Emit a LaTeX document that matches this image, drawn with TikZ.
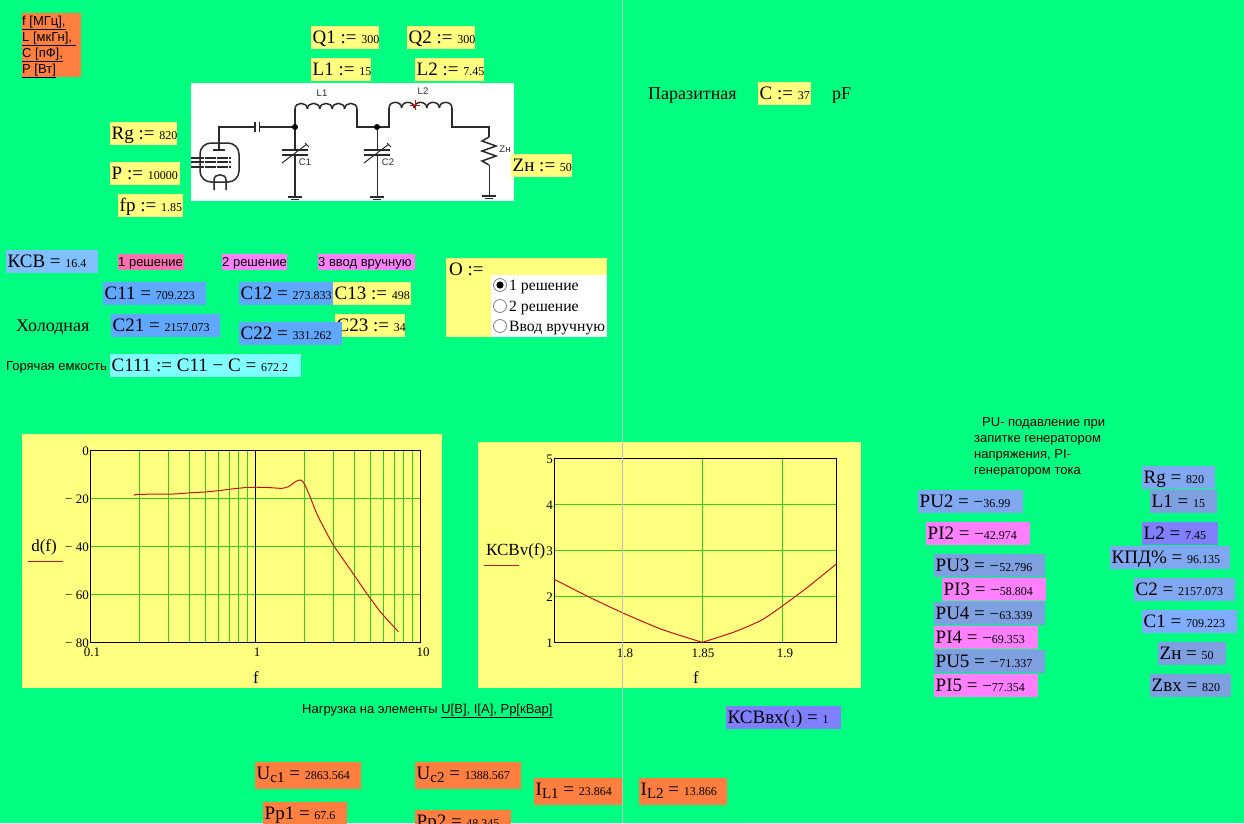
\documentclass[tikz,border=0pt]{standalone}
\usepackage{fontspec}
\setmainfont{Liberation Serif}
\newfontfamily\arl{Liberation Sans}
\definecolor{bgc}{HTML}{00FF80}
\definecolor{yel}{HTML}{FFFF80}
\definecolor{org}{HTML}{FF7F40}
\definecolor{blu}{HTML}{80C0FF}
\definecolor{blm}{HTML}{60A8FF}
\definecolor{bls}{HTML}{80A8F0}
\definecolor{blt}{HTML}{7FA0E0}
\definecolor{vio}{HTML}{8080FF}
\definecolor{mag}{HTML}{FF80FF}
\definecolor{pnk}{HTML}{FF70B0}
\definecolor{cya}{HTML}{80FFFF}
\definecolor{grd}{HTML}{33CC22}
\definecolor{crv}{HTML}{C81010}
\definecolor{ink}{HTML}{2A2A2A}
\newcommand\bigt{\fontsize{19}{21}\selectfont}
\newcommand\smt{\fontsize{12}{14}\selectfont}
\newcommand\mv[2]{{\bigt #1}{\smt #2}}
\newcommand\mn{{\fontsize{17}{14}\selectfont −}}
\newcommand\arlt{\arl\fontsize{13}{15}\selectfont}
\newcommand\subt[1]{\raisebox{-3pt}{\fontsize{15}{15}\selectfont #1}}
% name x0 y0 x1 y1 fill text
\newcommand\vb[7]{\fill[#6] (#2,#3) rectangle (#4,#5);
  \node[txt] (#1) at ({#2+1.5},{#3+17}) {#7};}
\newcommand\coil[4]{\foreach \i in {1,...,#3}{
  \draw[wire] ({#1+(\i-1)*#4},#2) .. controls ({#1+(\i-1)*#4},{#2-7.5}) and ({#1+\i*#4},{#2-7.5}) .. ({#1+\i*#4},#2);}}
\newcommand\gnd[2]{\draw[wire] ({#1-7},#2) -- ({#1+7},#2);
  \draw[thinw] ({#1-4},{#2+2}) -- ({#1+4},{#2+2});}
\newcommand\vcap[2]{\draw[wire] ({#1-13},{#2}) -- ({#1+13},{#2});
  \draw[wire] ({#1-13},{#2+5}) -- ({#1+13},{#2+5});
  \draw[thinw] ({#1-13},{#2+13}) -- ({#1+12},{#2-6});
  \draw[thinw] ({#1+10},{#2-7}) -- ({#1+14},{#2-3});}
\tikzset{
  txt/.style={anchor=base west,inner sep=0pt,text=black},
  wire/.style={draw=ink,line width=1.5pt},
  thinw/.style={draw=ink,line width=1pt},
  glab/.style={anchor=center,inner sep=0pt,text=ink,font=\arl\fontsize{9.5}{10}\selectfont},
  tick/.style={inner sep=0pt,text=black,font=\fontsize{13}{14}\selectfont},
  gridl/.style={draw=grd,line width=1pt},
  curve/.style={draw=crv,line width=1pt,line join=round},
  frame/.style={draw=black,line width=1pt},
  ptxt/.style={inner sep=0pt,text=black,font=\fontsize{17}{18}\selectfont},
  radio/.style={circle,draw=gray,fill=white,line width=.8pt,minimum size=13pt,inner sep=0pt},
  rlab/.style={anchor=base west,inner sep=0pt,text=black,font=\fontsize{15.7}{17}\selectfont},
}
\begin{document}
\begin{tikzpicture}[x=1pt,y=-1pt]
\useasboundingbox (0,0) rectangle (1244,823);
\clip (0,0) rectangle (1244,823);
\fill[bgc] (0,0) rectangle (1244,823);

% units box
\fill[org] (22,13) rectangle (81,77);
\node[txt] (uf) at (22,25) {\arlt\underline{f [МГц],}};
\node[txt] (ul) at (22,41) {\arlt\underline{L [мкГн], }};
\node[txt] (uc) at (22,57) {\arlt\underline{C [пФ],}};
\node[txt] (up) at (22,73) {\arlt\underline{P [Вт]}};

% top parameters
\vb{q1}{311}{26}{379}{49}{yel}{\mv{Q1 := }{300}}
\vb{q2}{407}{26}{475}{49}{yel}{\mv{Q2 := }{300}}
\vb{l1}{311}{58}{371}{81}{yel}{\mv{L1 := }{15}}
\vb{l2}{415}{58}{484}{81}{yel}{\mv{L2 := }{7.45}}
\vb{rg}{110}{122}{177}{145}{yel}{\mv{Rg := }{820}}
\vb{pp}{110}{162}{180}{185}{yel}{\mv{P := }{10000}}
\vb{fp}{118}{194}{183}{217}{yel}{\mv{fp := }{1.85}}

% schematic
\fill[white] (191,83) rectangle (514,201);
\draw[wire] (219,150) -- (219,127) -- (255,127);
\draw[wire] (255,122) -- (255,132);
\draw[wire] (259.5,122) -- (259.5,132);
\draw[wire] (259.5,127) -- (295,127);
\draw[wire] (295,127) -- (295,109);
\coil{295}{109}{5}{12.4}
\draw[wire] (357,109) -- (357,127) -- (389,127) -- (389,108);
\coil{389}{108}{5}{12.6}
\draw[wire] (452,108) -- (452,127) -- (489,127) -- (489,137);
\draw[wire] (489,137) -- (482,141) -- (496,146) -- (482,151) -- (496,156) -- (482,161) -- (489,165);
\draw[thinw] (489,165) -- (489,195);
\gnd{489}{196}
\draw[wire] (295,127) -- (295,150);
\vcap{295}{150}
\draw[wire] (295,155) -- (295,196);
\gnd{295}{197}
\draw[thinw] (377,127) -- (377,150);
\vcap{377}{150}
\draw[thinw] (377,155) -- (377,196);
\gnd{377}{197}
\fill[black] (295,127) circle (3);
\fill[black] (377,127) circle (3);
\draw[crv,line width=.8pt] (415,100) -- (415,110) (410,105) -- (420,105);
\node[glab] (tl1) at (322,93) {L1};
\node[glab] (tl2) at (423,91) {L2};
\node[glab] (tc1) at (305,162) {C1};
\node[glab] (tc2) at (388,162) {C2};
\node[glab] (tzn) at (505,149) {Zн};
% tube
\draw[wire,rounded corners=11pt] (200,143) rectangle (239,182);
\draw[wire] (213,150) -- (225,150);
\draw[wire] (191,158) -- (231,158) (191,162) -- (231,162) (191,167) -- (231,167);
\foreach \gx in {204,216,228}{\draw[white,line width=.8pt] (\gx,156) -- (\gx,169);}
\draw[wire] (214,190) -- (214,180) .. controls (214,173) and (226,173) .. (226,180) -- (226,190);

\vb{zn}{511}{154}{572}{177}{yel}{\mv{Zн := }{50}}

% parasitic
\node[txt,font=\fontsize{18}{19}\selectfont] (par) at (648,99) {Паразитная};
\vb{cc}{758}{82}{811}{105}{yel}{\mv{C := }{37}}
\node[txt,font=\fontsize{18}{19}\selectfont] (pf) at (832,99) {pF};

% row
\vb{ksv}{6}{250}{98}{273}{blu}{\mv{КСВ = }{16.4}}
\fill[pnk] (118,254) rectangle (184,270);
\node[txt] (s1) at (118,266) {\arlt 1 решение};
\fill[mag] (222,254) rectangle (287,270);
\node[txt] (s2) at (222,266) {\arlt 2 решение};
\fill[mag] (318,254) rectangle (415,270);
\node[txt] (s3) at (318,266) {\arlt 3 ввод вручную};

\vb{c11}{103}{282}{206}{305}{blm}{\mv{C11 = }{709.223}}
\vb{c13}{333}{282}{411}{305}{yel}{\mv{C13 := }{498}}
\vb{c12}{239}{282}{333}{305}{blm}{\mv{C12 = }{273.833}}
\vb{c21}{111}{314}{220}{337}{blm}{\mv{C21 = }{2157.073}}
\vb{c23}{335}{314}{405}{337}{yel}{\mv{C23 := }{34}}
\vb{c22}{239}{322}{342}{345}{blm}{\mv{C22 = }{331.262}}
\node[txt,font=\fontsize{18}{19}\selectfont] (hol) at (16,331) {Холодная};
\node[txt] (hot) at (6,370) {\arlt Горячая емкость};
\vb{c111}{110}{354}{301}{377}{cya}{\mv{C111 := C11 − C = }{672.2}}

% option box
\fill[yel] (446,258) rectangle (607,337);
\fill[white] (491,275) rectangle (607,337);
\node[txt] (oo) at (449,275) {\bigt O :=};
\node[radio] (r1) at (500,285) {};
\fill[black] (r1.center) circle (3.6);
\node[radio] (r2) at (500,306) {};
\node[radio] (r3) at (500,326) {};
\node[rlab] (t1) at (509,290) {1 решение};
\node[rlab] (t2) at (509,311) {2 решение};
\node[rlab] (t3) at (509,331) {Ввод вручную};

% plot 1
\fill[yel] (22,434) rectangle (442,688);
\foreach \v in {0.30103,0.47712,0.60206,0.69897,0.77815,0.84510,0.90309,0.95424}{
  \draw[gridl] ({89.7+165*\v},451) -- ({89.7+165*\v},642.5);
  \draw[gridl] ({254.7+165*\v},451) -- ({254.7+165*\v},642.5);}
\foreach \v in {498.7,546.7,594.7}{\draw[gridl] (90.7,\v) -- (420.7,\v);}
\draw[frame] (255.7,451) -- (255.7,642.5);
\draw[frame] (90.7,450.7) rectangle (420.7,642.5);
\begin{scope}[shift={(15,430)},x=0.33333pt,y=-0.33333pt]
\draw[curve] plot[smooth,tension=.35] coordinates {(357,196) (370,193) (475,192) (530,188) (570,186) (610,182) (650,177) (700,172) (750,172) (800,175) (820,170) (840,156) (850,151) (860,151) (870,165) (885,200) (905,250) (925,290) (955,345) (1000,410) (1060,497) (1100,550) (1150,605)};
\end{scope}
\node[tick,anchor=east] (a0) at (89,451) {0};
\node[tick,anchor=east] (a20) at (89,499) {− 20};
\node[tick,anchor=east] (a40) at (89,547) {− 40};
\node[tick,anchor=east] (a60) at (89,595) {− 60};
\node[tick,anchor=east] (a80) at (89,643) {− 80};
\node[tick] (b1) at (92,652) {0.1};
\node[tick] (b2) at (257,652) {1};
\node[tick] (b3) at (423,652) {10};
\node[ptxt] (yl1) at (44,547) {d(f)};
\draw[curve] (28,561) -- (63,561);
\node[ptxt] (xl1) at (256,677) {f};

% plot 2
\fill[yel] (478,442) rectangle (861,688);
\foreach \v in {622.3,702.3,782.3}{\draw[gridl] (\v,458.3) -- (\v,642.3);}
\foreach \v in {504.3,550.3,596.3}{\draw[gridl] (554.3,\v) -- (836.3,\v);}
\draw[frame] (554.3,458.3) rectangle (836.3,642.3);
\begin{scope}[shift={(475,440)},x=0.33333pt,y=-0.33333pt]
\draw[curve] plot[smooth,tension=.4] coordinates {(238,418) (340,470) (442,518) (560,568) (682,607)};
\draw[curve] plot[smooth,tension=.4] coordinates {(682,607) (780,575) (860,540) (922,498) (1000,440) (1084,372)};
\end{scope}
\node[tick,anchor=east] (c5) at (553,459) {5};
\node[tick,anchor=east] (c4) at (553,505) {4};
\node[tick,anchor=east] (c3) at (553,551) {3};
\node[tick,anchor=east] (c2) at (553,597) {2};
\node[tick,anchor=east] (c1) at (553,643) {1};
\node[tick] (d1) at (625,653) {1.8};
\node[tick] (d2) at (703,653) {1.85};
\node[tick] (d3) at (785,653) {1.9};
\node[ptxt,anchor=west] (yl2) at (486,551) {КСВv(f)};
\draw[curve] (484,565) -- (519,565);
\node[ptxt] (xl2) at (696,677) {f};

% note
\node[txt] (n1) at (982,426) {\arlt PU- подавление при};
\node[txt] (n2) at (974,442) {\arlt запитке генератором};
\node[txt] (n3) at (974,458) {\arlt напряжения, PI-};
\node[txt] (n4) at (974,474) {\arlt генератором тока};

% right column
\vb{pu2}{918}{490}{1023}{513}{bls}{\mv{PU2 = }{\mn 36.99}}
\vb{pi2}{926}{522}{1030}{545}{mag}{\mv{PI2 = }{\mn 42.974}}
\vb{pu3}{934}{554}{1045}{577}{blt}{\mv{PU3 = }{\mn 52.796}}
\vb{pi3}{942}{578}{1046}{601}{mag}{\mv{PI3 = }{\mn 58.804}}
\vb{pu4}{934}{602}{1045}{625}{blt}{\mv{PU4 = }{\mn 63.339}}
\vb{pi4}{934}{626}{1038}{649}{mag}{\mv{PI4 = }{\mn 69.353}}
\vb{pu5}{934}{650}{1045}{673}{blt}{\mv{PU5 = }{\mn 71.337}}
\vb{pi5}{934}{674}{1038}{697}{mag}{\mv{PI5 = }{\mn 77.354}}
\vb{rrg}{1142}{466}{1215}{489}{bls}{\mv{Rg = }{820}}
\vb{rl1}{1150}{490}{1217}{513}{blt}{\mv{L1 = }{15}}
\vb{rl2}{1142}{522}{1218}{545}{vio}{\mv{L2 = }{7.45}}
\vb{kpd}{1110}{546}{1230}{569}{bls}{\mv{КПД\% = }{96.135}}
\vb{rc2}{1134}{578}{1235}{601}{bls}{\mv{C2 = }{2157.073}}
\vb{rc1}{1142}{610}{1237}{633}{blu!70!vio}{\mv{C1 = }{709.223}}
\vb{rzn}{1158}{642}{1226}{665}{blt}{\mv{Zн = }{50}}
\vb{rzv}{1150}{674}{1231}{697}{blt}{\mv{Zвх = }{820}}

\vb{kvx}{726}{706}{841}{729}{vio}{\mv{КСВвх({\smt 1}) = }{1}}

\node[txt] (nag) at (302,713) {\arlt Нагрузка на элементы \underline{U[В], I[А], Рр[кВар]}};

\vb{uc1}{255}{762}{361}{789}{org}{\mv{U\subt{c1} = }{2863.564}}
\vb{uc2}{415}{762}{521}{789}{org}{\mv{U\subt{c2} = }{1388.567}}
\vb{il1}{534}{778}{622}{805}{org}{\mv{I\subt{L1} = }{23.864}}
\vb{il2}{639}{778}{727}{805}{org}{\mv{I\subt{L2} = }{13.866}}
\vb{pp1}{263}{802}{347}{830}{org}{\mv{Pp1 = }{67.6}}
\vb{pp2}{415}{810}{511}{838}{org}{\mv{Pp2 = }{48.345}}

% divider
\draw[draw=black!25,line width=1pt] (622.3,0) -- (622.3,823);
\end{tikzpicture}
\end{document}
